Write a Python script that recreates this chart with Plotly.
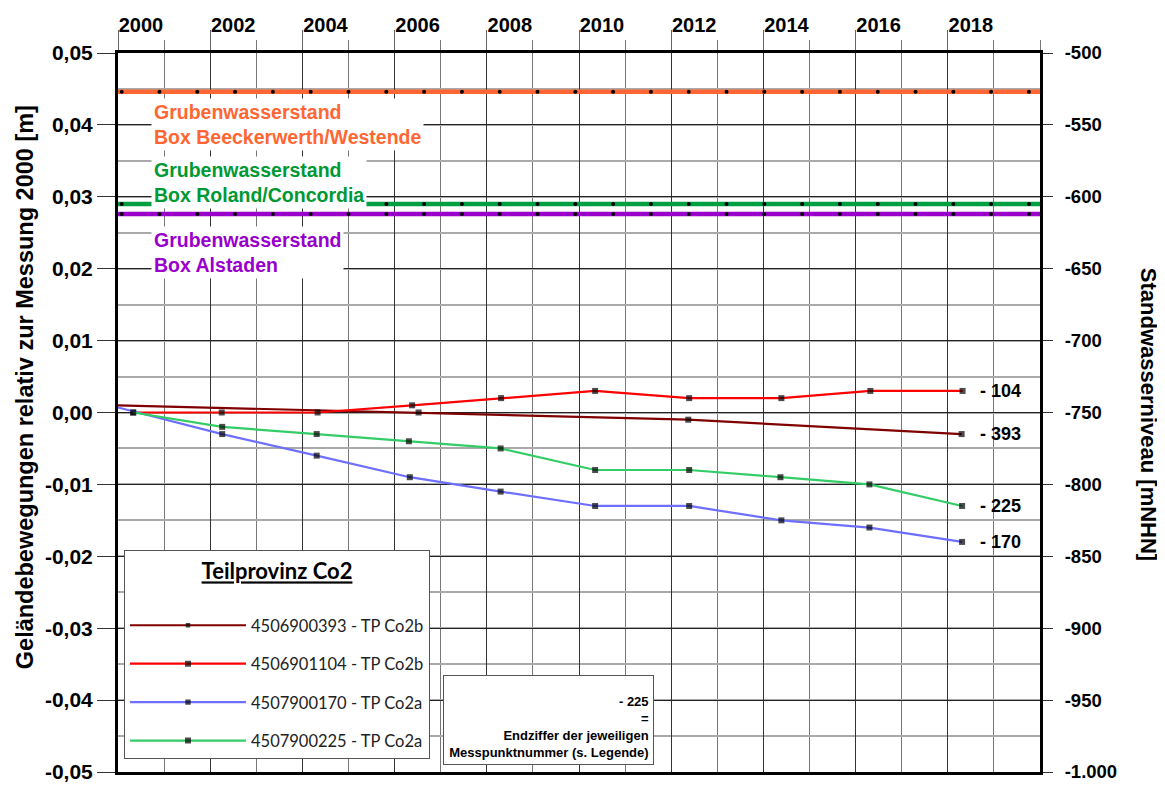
import plotly.graph_objects as go

# ---------------- data ----------------
years_ticks = [2000, 2002, 2004, 2006, 2008, 2010, 2012, 2014, 2016, 2018]
year_tick_text = [str(y) for y in years_ticks]

left_tickvals = [0.05, 0.04, 0.03, 0.02, 0.01, 0.0, -0.01, -0.02, -0.03, -0.04, -0.05]
left_ticktext = ["0,05", "0,04", "0,03", "0,02", "0,01", "0,00", "-0,01", "-0,02", "-0,03", "-0,04", "-0,05"]
right_tickvals = [-500, -550, -600, -650, -700, -750, -800, -850, -900, -950, -1000]
right_ticktext = ["-500", "-550", "-600", "-650", "-700", "-750", "-800", "-850", "-900", "-950", "-1.000"]

names = ["4506900393 - TP Co2b", "4506901104 - TP Co2b", "4507900170 - TP Co2a", "4507900225 - TP Co2a"]
end_labels = ["- 393", "- 104", "- 170", "- 225"]
colors = ["#800000", "#FF0000", "#6F6FFF", "#33CC66"]

x393 = [2000.0, 2006.52, 2012.37, 2018.30]
y393 = [0.001, 0.000, -0.001, -0.003]

x104 = [2000.33, 2002.25, 2004.33, 2006.38, 2008.31, 2010.35, 2012.39, 2014.39, 2016.32, 2018.32]
y104 = [0.000, 0.000, 0.000, 0.001, 0.002, 0.003, 0.002, 0.002, 0.003, 0.003]

x170 = [2000.0, 2002.26, 2004.31, 2006.33, 2008.30, 2010.35, 2012.39, 2014.39, 2016.30, 2018.31]
y170 = [0.0007, -0.003, -0.006, -0.009, -0.011, -0.013, -0.013, -0.015, -0.016, -0.018]

x225 = [2000.33, 2002.26, 2004.31, 2006.31, 2008.30, 2010.35, 2012.39, 2014.37, 2016.30, 2018.31]
y225 = [0.000, -0.002, -0.003, -0.004, -0.005, -0.008, -0.008, -0.009, -0.010, -0.013]

# mine water levels (right axis, mNHN)
gw_names = ["Grubenwasserstand<br>Box Beeckerwerth/Westende",
            "Grubenwasserstand<br>Box Roland/Concordia",
            "Grubenwasserstand<br>Box Alstaden"]
gw_levels = [-527, -605, -612]
gw_colors = ["#FF6633", "#00A040", "#9900CC"]
gw_text_colors = ["#FF6633", "#009933", "#9900CC"]
gw_label_top = [0.0437, 0.0357, 0.0259]
gw_line_x = [2000, 2020]
gw_dot_years = [2000.08, 2000.90, 2001.72, 2002.54, 2003.36, 2004.18, 2005.00, 2005.82,
                2006.64, 2007.46, 2008.28, 2009.10, 2009.92, 2010.74, 2011.56, 2012.38,
                2013.20, 2014.02, 2014.84, 2015.66, 2016.48, 2017.30, 2018.12, 2018.94, 2019.76]

FONT = "Liberation Sans"

fig = go.Figure()

# water level lines
for lvl, col in zip(gw_levels, gw_colors):
    fig.add_trace(go.Scatter(x=gw_line_x, y=[lvl] * len(gw_line_x), yaxis="y2", mode="lines",
                             line=dict(color=col, width=4.5), showlegend=False, hoverinfo="skip"))
    fig.add_trace(go.Scatter(x=gw_dot_years, y=[lvl] * len(gw_dot_years), yaxis="y2", mode="markers",
                             marker=dict(color="black", size=4, line=dict(width=0)),
                             showlegend=False, hoverinfo="skip"))

series = [(x393, y393), (x104, y104), (x170, y170), (x225, y225)]
for (xs, ys), nm, col, lab in zip(series, names, colors, end_labels):
    sizes = [0 if x == 2000.0 else 6 for x in xs]
    fig.add_trace(go.Scatter(x=xs, y=ys, mode="lines+markers", name=nm, legendgroup=nm,
                             line=dict(color=col, width=2.2),
                             marker=dict(symbol="square", color="black", size=sizes, line=dict(width=0))))
    fig.add_annotation(x=2018.66, y=ys[-1], xref="x", yref="y", text="<b>" + lab + "</b>",
                       showarrow=False, xanchor="left", yanchor="middle",
                       font=dict(family=FONT, size=18, color="black"))

for txt, col, top in zip(gw_names, gw_text_colors, gw_label_top):
    fig.add_annotation(x=2000.72, y=top, xref="x", yref="y", text="<b>" + txt + "</b>",
                       showarrow=False, xanchor="left", yanchor="top", align="left",
                       bgcolor="white", borderpad=2,
                       font=dict(family=FONT, size=19.5, color=col))

# explanation box
fig.add_annotation(x=0.352, y=0.135, xref="paper", yref="paper",
                   text="<b>- 225<br>=<br>Endziffer der jeweiligen<br>Messpunktnummer (s. Legende)</b>",
                   showarrow=False, xanchor="left", yanchor="top", align="right", valign="bottom",
                   width=201, height=80, bgcolor="white", bordercolor="#555", borderwidth=1, borderpad=4,
                   font=dict(family=FONT, size=13, color="black"))

# axis titles
fig.add_annotation(x=-0.101, y=0.535, xref="paper", yref="paper", textangle=-90,
                   text="<b>Geländebewegungen relativ zur Messung 2000 [m]</b>", showarrow=False,
                   xanchor="center", yanchor="middle", font=dict(family=FONT, size=23.5, color="black"))
fig.add_annotation(x=1.117, y=0.497, xref="paper", yref="paper", textangle=90,
                   text="<b>Standwasserniveau [mNHN]</b>", showarrow=False,
                   xanchor="center", yanchor="middle", font=dict(family=FONT, size=22, color="black"))

# the page body has an 8px margin, so the figure is 8px smaller and margins are shifted
fig.update_layout(
    width=1157, height=777,
    margin=dict(l=110, r=125, t=45, b=13, autoexpand=False),
    paper_bgcolor="white", plot_bgcolor="white",
    showlegend=True,
    legend=dict(x=0.0065, y=0.309, xanchor="left", yanchor="top",
                bgcolor="white", bordercolor="#555", borderwidth=1,
                font=dict(family="Lato", size=16.5, color="#222"),
                title=dict(text="<b><u>Teilprovinz Co2</u></b><br><span style='font-size:12px'> </span>",
                           side="top center",
                           font=dict(family="Lato", size=22, color="black")),
                traceorder="grouped", tracegroupgap=14, itemwidth=116),
    xaxis=dict(range=[2000, 2020], side="top", tickvals=years_ticks, ticktext=year_tick_text,
               ticks="outside", ticklen=20, tickcolor="#666", tickwidth=1,
               ticklabelposition="outside", ticklabelshift=23, ticklabelstandoff=-10,
               tickfont=dict(family=FONT, size=20, color="black", weight="bold"),
               showgrid=True, gridcolor="#333", gridwidth=1, automargin=False,
               minor=dict(dtick=1, tick0=2000, ticks="outside", ticklen=10, tickcolor="#777",
                          showgrid=True, gridcolor="#777", gridwidth=1),
               showline=True, linecolor="black", linewidth=3, mirror=True, zeroline=False),
    yaxis=dict(range=[-0.05, 0.05], tickvals=left_tickvals, ticktext=left_ticktext,
               ticks="outside", ticklen=18, tickcolor="#333", automargin=False,
               tickfont=dict(family=FONT, size=21, color="black", weight="bold"),
               showgrid=True, gridcolor="#222", gridwidth=1,
               minor=dict(dtick=0.005, tick0=0, showgrid=True, gridcolor="#AAAAAA", gridwidth=1.5),
               showline=True, linecolor="black", linewidth=3, mirror=True, zeroline=False),
    yaxis2=dict(range=[-1000, -500], overlaying="y", side="right",
                tickvals=right_tickvals, ticktext=right_ticktext,
                ticks="outside", ticklen=10, tickcolor="#333", ticklabelstandoff=8,
                tickfont=dict(family=FONT, size=18.5, color="black", weight="bold"),
                showgrid=False, zeroline=False, automargin=False,
                showline=True, linecolor="black", linewidth=3),
)

fig.write_html("out.html")
